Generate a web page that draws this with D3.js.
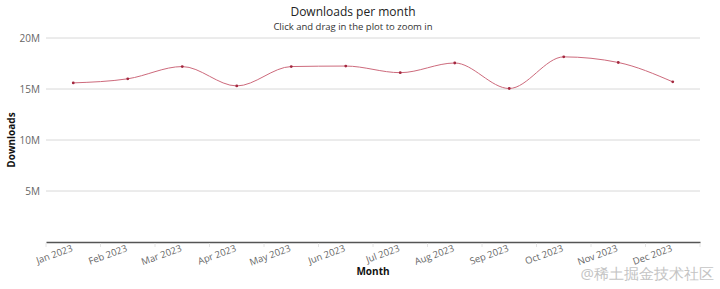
<!DOCTYPE html>
<html>
<head>
<meta charset="utf-8">
<script src="https://cdn.jsdelivr.net/npm/d3@7"></script>
<style>
  body { margin: 0; background: #fff; }
  text { font-family: "Open Sans", "DejaVu Sans", sans-serif; }
</style>
</head>
<body>
<div id="vis"></div>
<script>
//Chart data
var months = ["Jan 2023", "Feb 2023", "Mar 2023", "Apr 2023", "May 2023", "Jun 2023",
              "Jul 2023", "Aug 2023", "Sep 2023", "Oct 2023", "Nov 2023", "Dec 2023"];
var downloads = [15.6e6, 16.0e6, 17.2e6, 15.3e6, 17.2e6, 17.25e6,
                 16.6e6, 17.55e6, 15.05e6, 18.15e6, 17.6e6, 15.7e6];
var yTicks = [0, 5e6, 10e6, 15e6, 20e6];

var width = 720, height = 289;
var margin = {top: 38, right: 20, bottom: 47, left: 46};

var svg = d3.select("#vis").append("svg")
            .attr("width", width)
            .attr("height", height);

var x = d3.scaleBand().domain(months).range([margin.left, width - margin.right]);
var y = d3.scaleLinear().domain([0, 20e6]).range([height - margin.bottom, margin.top]);

//Gridlines
svg.append("g").selectAll("line")
   .data(yTicks.filter(function(d) { return d > 0; }))
   .enter().append("line")
   .attr("x1", margin.left).attr("x2", width - margin.right)
   .attr("y1", function(d) { return y(d); })
   .attr("y2", function(d) { return y(d); })
   .attr("stroke", "#d8d8d8").attr("stroke-width", 1);

//Y axis labels
svg.append("g").selectAll("text")
   .data(yTicks.filter(function(d) { return d > 0; }))
   .enter().append("text")
   .attr("x", margin.left - 6)
   .attr("y", function(d) { return y(d) + 3.5; })
   .attr("text-anchor", "end")
   .attr("font-size", 10)
   .attr("fill", "#666")
   .text(function(d) { return (d / 1e6) + "M"; });

//X axis
var xAxis = svg.append("g")
   .attr("transform", "translate(0," + y(0) + ")")
   .call(d3.axisBottom(x).tickSize(0).tickFormat(""));
xAxis.select(".domain").attr("stroke", "#555").attr("stroke-width", 1.5);

//Tick marks between categories
svg.append("g").selectAll("line")
   .data(months.concat(["end"]))
   .enter().append("line")
   .attr("x1", function(d, i) { return margin.left + i * x.step(); })
   .attr("x2", function(d, i) { return margin.left + i * x.step(); })
   .attr("y1", y(0) + 1).attr("y2", y(0) + 5)
   .attr("stroke", "#e4e4e4");

svg.append("g").selectAll("text")
   .data(months)
   .enter().append("text")
   .attr("transform", function(d) {
     return "translate(" + (x(d) + x.bandwidth() / 2) + "," + (y(0) + 9) + ") rotate(-20)";
   })
   .attr("text-anchor", "end")
   .attr("font-size", 9.5)
   .attr("fill", "#666")
   .text(function(d) { return d; });

//Line
var line = d3.line()
   .x(function(d, i) { return x(months[i]) + x.bandwidth() / 2; })
   .y(function(d) { return y(d); })
   .curve(d3.curveMonotoneX);

svg.append("path")
   .datum(downloads)
   .attr("d", line)
   .attr("fill", "none")
   .attr("stroke", "#cd6a7c")
   .attr("stroke-width", 1);

svg.append("g").selectAll("circle")
   .data(downloads)
   .enter().append("circle")
   .attr("cx", function(d, i) { return x(months[i]) + x.bandwidth() / 2; })
   .attr("cy", function(d) { return y(d); })
   .attr("r", 1.4)
   .attr("fill", "#a3283f");

//Titles
svg.append("text")
   .attr("x", 353).attr("y", 16)
   .attr("text-anchor", "middle")
   .attr("font-size", 12)
   .attr("fill", "#222")
   .text("Downloads per month");

svg.append("text")
   .attr("x", 353).attr("y", 29.5)
   .attr("text-anchor", "middle")
   .attr("font-size", 9.5)
   .attr("fill", "#333")
   .text("Click and drag in the plot to zoom in");

svg.append("text")
   .attr("transform", "translate(15," + ((margin.top + height - margin.bottom) / 2) + ") rotate(-90)")
   .attr("text-anchor", "middle")
   .attr("font-size", 10)
   .attr("font-weight", "bold")
   .attr("fill", "#111")
   .text("Downloads");

svg.append("text")
   .attr("x", (margin.left + width - margin.right) / 2)
   .attr("y", 275)
   .attr("text-anchor", "middle")
   .attr("font-size", 10)
   .attr("font-weight", "bold")
   .attr("fill", "#111")
   .text("Month");

//Watermark
svg.append("text")
   .attr("x", 714).attr("y", 279)
   .attr("text-anchor", "end")
   .attr("font-size", 15)
   .attr("fill", "#c4c4c4")
   .attr("font-family", "'Noto Sans CJK SC', sans-serif")
   .text("@稀土掘金技术社区");
</script>
</body>
</html>
